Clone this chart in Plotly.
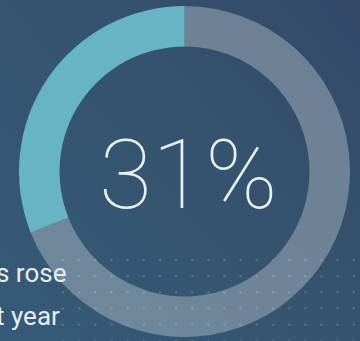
import plotly.graph_objects as go

# ---- data ----
slice_labels = ["Increase", "Remainder"]
slice_values = [31, 69]
center_label = "31%"
caption_lines = ["s rose", "t year"]

W, H = 360, 341
BG = "#34536f"
TEAL = "#67b5c4"
RING = "rgba(255,255,255,0.285)"

fig = go.Figure()

# subtle background gradient
fig.add_trace(go.Heatmap(
    x=[0, W], y=[0, H],
    z=[[0.55, 0.0], [1.0, 0.45]],
    colorscale=[[0, "#334a69"], [0.5, "#35546f"], [1, "#365a77"]],
    zsmooth="best", showscale=False, hoverinfo="skip",
))

# dot grid decoration
dx, dy = 16.15, 16.2
xs, ys = [], []
for r in range(6):
    for c in range(19):
        xs.append(63 + c * dx)
        ys.append(260 + r * dy)
fig.add_trace(go.Scatter(
    x=xs, y=ys, mode="markers",
    marker=dict(size=2.6, color="rgba(255,255,255,0.16)", line=dict(width=0)),
    hoverinfo="skip", showlegend=False,
))

# first slice ends at 12 o'clock, extending counter-clockwise from it
start_rot = -360.0 * slice_values[0] / sum(slice_values)
fig.add_trace(go.Pie(
    labels=slice_labels, values=slice_values,
    hole=0.755, sort=False, direction="clockwise", rotation=start_rot,
    marker=dict(colors=[TEAL, RING], line=dict(width=0)),
    textinfo="none", hoverinfo="skip", showlegend=False,
    domain=dict(x=[19 / W, 350 / W], y=[1 - 337 / H, 1 - 6 / H]),
))

fig.add_annotation(
    x=188, y=175, xref="x", yref="y", text=center_label, showarrow=False,
    font=dict(family="Roboto", size=97, color="#e9eff3", weight=100),
    xanchor="center", yanchor="middle",
)
caption_right = [68, 62]
for i, line in enumerate(caption_lines):
    fig.add_annotation(
        x=caption_right[i], y=273 + i * 43, xref="x", yref="y", text=line,
        showarrow=False,
        font=dict(family="Roboto", size=26, color="#e6edf1", weight=400),
        xanchor="right", yanchor="middle",
    )

fig.update_layout(
    width=W, height=H, margin=dict(l=0, r=0, t=0, b=0),
    paper_bgcolor=BG, plot_bgcolor=BG, showlegend=False,
    xaxis=dict(range=[0, W], visible=False, fixedrange=True),
    yaxis=dict(range=[H, 0], visible=False, fixedrange=True),
)

fig.write_html("out.html")
